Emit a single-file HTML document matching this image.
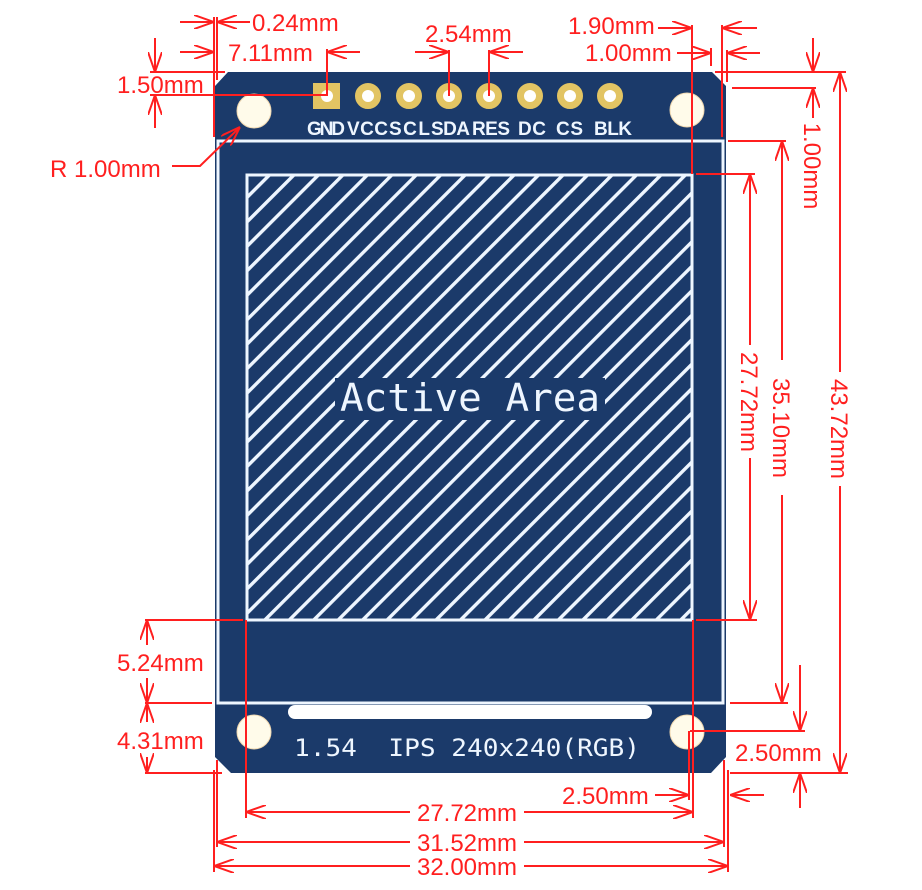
<!DOCTYPE html>
<html><head><meta charset="utf-8"><style>
html,body{margin:0;padding:0;background:#fff;}
svg{display:block;}
.r{fill:#ff1f1f;font-family:"Liberation Sans",sans-serif;font-size:24px;}
.w{fill:#eef6ff;font-family:"Liberation Sans",sans-serif;font-weight:bold;font-size:19px;}
</style></head><body>
<svg width="922" height="890" viewBox="0 0 922 890" xmlns="http://www.w3.org/2000/svg">
<defs>
<pattern id="h" patternUnits="userSpaceOnUse" width="17.3" height="10" patternTransform="translate(268,174) rotate(45)">
<rect x="0" y="0" width="3.4" height="10" fill="#eef6ff"/>
</pattern>
<marker id="a" viewBox="0 0 20 14" refX="20" refY="7" markerWidth="20" markerHeight="14" markerUnits="userSpaceOnUse" orient="auto">
<path d="M0,0 L20,7 L0,14" fill="none" stroke="#ff1f1f" stroke-width="2"/>
</marker>
</defs>
<path d="M228,72 L712,72 L726,86 L726,757 L711,773 L231,773 L215,757 L215,86 Z" fill="#1b3a6a"/>
<rect x="218" y="141" width="505" height="562" fill="none" stroke="#eef6ff" stroke-width="3"/>
<rect x="247" y="175" width="445" height="445" fill="#1b3a6a"/>
<rect x="247" y="175" width="445" height="445" fill="url(#h)"/>
<rect x="247" y="175" width="445" height="445" fill="none" stroke="#eef6ff" stroke-width="3"/>
<rect x="335" y="378" width="270" height="42" fill="#1b3a6a"/>
<text x="470" y="411" text-anchor="middle" fill="#eef6ff" font-family="DejaVu Sans Mono,monospace" font-size="38" textLength="260" lengthAdjust="spacingAndGlyphs">Active Area</text>
<g fill="#fffbea" stroke="#f0d8b0" stroke-width="1">
<circle cx="254" cy="111" r="17"/><circle cx="687" cy="110" r="17"/>
<circle cx="254" cy="732" r="17"/><circle cx="687" cy="732" r="17"/>
</g>
<rect x="313" y="83" width="27" height="26" fill="#e2c463"/>
<circle cx="327" cy="96" r="6" fill="#fff"/>
<g fill="#fff" stroke="#e2c463" stroke-width="7">
<circle cx="368" cy="96" r="9.5"/><circle cx="409" cy="96" r="9.5"/><circle cx="449" cy="96" r="9.5"/><circle cx="489" cy="96" r="9.5"/>
<circle cx="530" cy="96" r="9.5"/><circle cx="570" cy="96" r="9.5"/><circle cx="610" cy="96" r="9.5"/>
</g>
<g class="w" lengthAdjust="spacingAndGlyphs">
<text x="307" y="135" textLength="38">GND</text><text x="347" y="135" textLength="41">VCC</text><text x="389" y="135" textLength="41">SCL</text><text x="431" y="135" textLength="39">SDA</text>
<text x="472" y="135" textLength="38">RES</text><text x="518" y="135" textLength="28">DC</text><text x="556" y="135" textLength="27">CS</text><text x="594" y="135" textLength="38">BLK</text>
</g>
<rect x="288" y="705" width="364" height="14" rx="7" fill="#fff"/>
<text x="294" y="756" fill="#eef6ff" font-family="DejaVu Sans Mono,monospace" font-size="24" textLength="346" lengthAdjust="spacingAndGlyphs" xml:space="preserve">1.54  IPS 240x240(RGB)</text>
<g stroke="#ff1f1f" stroke-width="2" fill="none">
<line x1="214" y1="17" x2="214" y2="137"/><line x1="217" y1="17" x2="217" y2="80"/>
<line x1="180" y1="22" x2="214" y2="22" marker-end="url(#a)"/><line x1="250" y1="22" x2="217" y2="22" marker-end="url(#a)"/>
<line x1="180" y1="52" x2="214" y2="52" marker-end="url(#a)"/><line x1="360" y1="52" x2="327" y2="52" marker-end="url(#a)"/>
<line x1="327" y1="49" x2="327" y2="96"/>
<line x1="150" y1="72" x2="225" y2="72"/><line x1="150" y1="95" x2="327" y2="95"/>
<line x1="155" y1="38" x2="155" y2="72" marker-end="url(#a)"/><line x1="155" y1="128" x2="155" y2="95" marker-end="url(#a)"/>
<polyline points="172,166 200,166 240,127" marker-end="url(#a)"/>
<line x1="415" y1="52" x2="449" y2="52" marker-end="url(#a)"/><line x1="523" y1="52" x2="489" y2="52" marker-end="url(#a)"/>
<line x1="449" y1="50" x2="449" y2="96"/><line x1="489" y1="50" x2="489" y2="96"/>
<line x1="658" y1="28" x2="692" y2="28" marker-end="url(#a)"/><line x1="692" y1="25" x2="692" y2="174"/>
<line x1="757" y1="28" x2="722" y2="28" marker-end="url(#a)"/><line x1="722" y1="25" x2="722" y2="137"/>
<line x1="677" y1="53" x2="711" y2="53" marker-end="url(#a)"/><line x1="711" y1="48" x2="711" y2="66"/>
<line x1="760" y1="53" x2="727" y2="53" marker-end="url(#a)"/><line x1="727" y1="50" x2="727" y2="82"/>
<line x1="715" y1="72" x2="846" y2="72"/><line x1="813" y1="38" x2="813" y2="72" marker-end="url(#a)"/>
<line x1="732" y1="88" x2="816" y2="88"/><line x1="813" y1="118" x2="813" y2="88" marker-end="url(#a)"/>
<line x1="728" y1="141" x2="786" y2="141"/><line x1="782" y1="360" x2="782" y2="141" marker-end="url(#a)"/><line x1="782" y1="495" x2="782" y2="703" marker-end="url(#a)"/>
<line x1="696" y1="174" x2="755" y2="174"/><line x1="750" y1="345" x2="750" y2="174" marker-end="url(#a)"/><line x1="750" y1="458" x2="750" y2="620" marker-end="url(#a)"/>
<line x1="840" y1="372" x2="840" y2="72" marker-end="url(#a)"/><line x1="840" y1="486" x2="840" y2="773" marker-end="url(#a)"/>
<line x1="696" y1="620" x2="757" y2="620"/><line x1="730" y1="703" x2="788" y2="703"/>
<line x1="800" y1="665" x2="800" y2="731" marker-end="url(#a)"/><line x1="690" y1="731" x2="805" y2="731"/>
<line x1="730" y1="773" x2="848" y2="773"/><line x1="800" y1="808" x2="800" y2="773" marker-end="url(#a)"/>
<line x1="655" y1="795" x2="689" y2="795" marker-end="url(#a)"/><line x1="689" y1="731" x2="689" y2="800"/>
<line x1="764" y1="795" x2="730" y2="795" marker-end="url(#a)"/>
<line x1="145" y1="620" x2="243" y2="620"/><line x1="145" y1="703" x2="212" y2="703"/><line x1="145" y1="773" x2="222" y2="773"/>
<line x1="147" y1="645" x2="147" y2="620" marker-end="url(#a)"/><line x1="147" y1="678" x2="147" y2="703" marker-end="url(#a)"/>
<line x1="147" y1="722" x2="147" y2="703" marker-end="url(#a)"/><line x1="147" y1="757" x2="147" y2="773" marker-end="url(#a)"/>
<line x1="246" y1="620" x2="246" y2="818"/><line x1="693" y1="620" x2="693" y2="818"/>
<line x1="217" y1="760" x2="217" y2="847"/><line x1="724" y1="760" x2="724" y2="847"/>
<line x1="214" y1="770" x2="214" y2="872"/><line x1="728" y1="770" x2="728" y2="872"/>
<line x1="410" y1="812" x2="246" y2="812" marker-end="url(#a)"/><line x1="524" y1="812" x2="693" y2="812" marker-end="url(#a)"/>
<line x1="410" y1="842" x2="217" y2="842" marker-end="url(#a)"/><line x1="524" y1="842" x2="724" y2="842" marker-end="url(#a)"/>
<line x1="410" y1="866" x2="214" y2="866" marker-end="url(#a)"/><line x1="524" y1="866" x2="728" y2="866" marker-end="url(#a)"/>
</g>
<g class="r">
<text x="252" y="31">0.24mm</text>
<text x="228" y="61">7.11mm</text>
<text x="425" y="42">2.54mm</text>
<text x="117" y="93">1.50mm</text>
<text x="50" y="177">R 1.00mm</text>
<text x="568" y="34">1.90mm</text>
<text x="585" y="61">1.00mm</text>
<text x="117" y="671">5.24mm</text>
<text x="117" y="749">4.31mm</text>
<text x="735" y="761">2.50mm</text>
<text x="562" y="804">2.50mm</text>
<text x="467" y="821" text-anchor="middle">27.72mm</text>
<text x="467" y="851" text-anchor="middle">31.52mm</text>
<text x="467" y="875" text-anchor="middle">32.00mm</text>
<text transform="translate(804,166) rotate(90)" text-anchor="middle">1.00mm</text>
<text transform="translate(741,402) rotate(90)" text-anchor="middle">27.72mm</text>
<text transform="translate(773,428) rotate(90)" text-anchor="middle">35.10mm</text>
<text transform="translate(831,429) rotate(90)" text-anchor="middle">43.72mm</text>
</g>
</svg>
</body></html>
